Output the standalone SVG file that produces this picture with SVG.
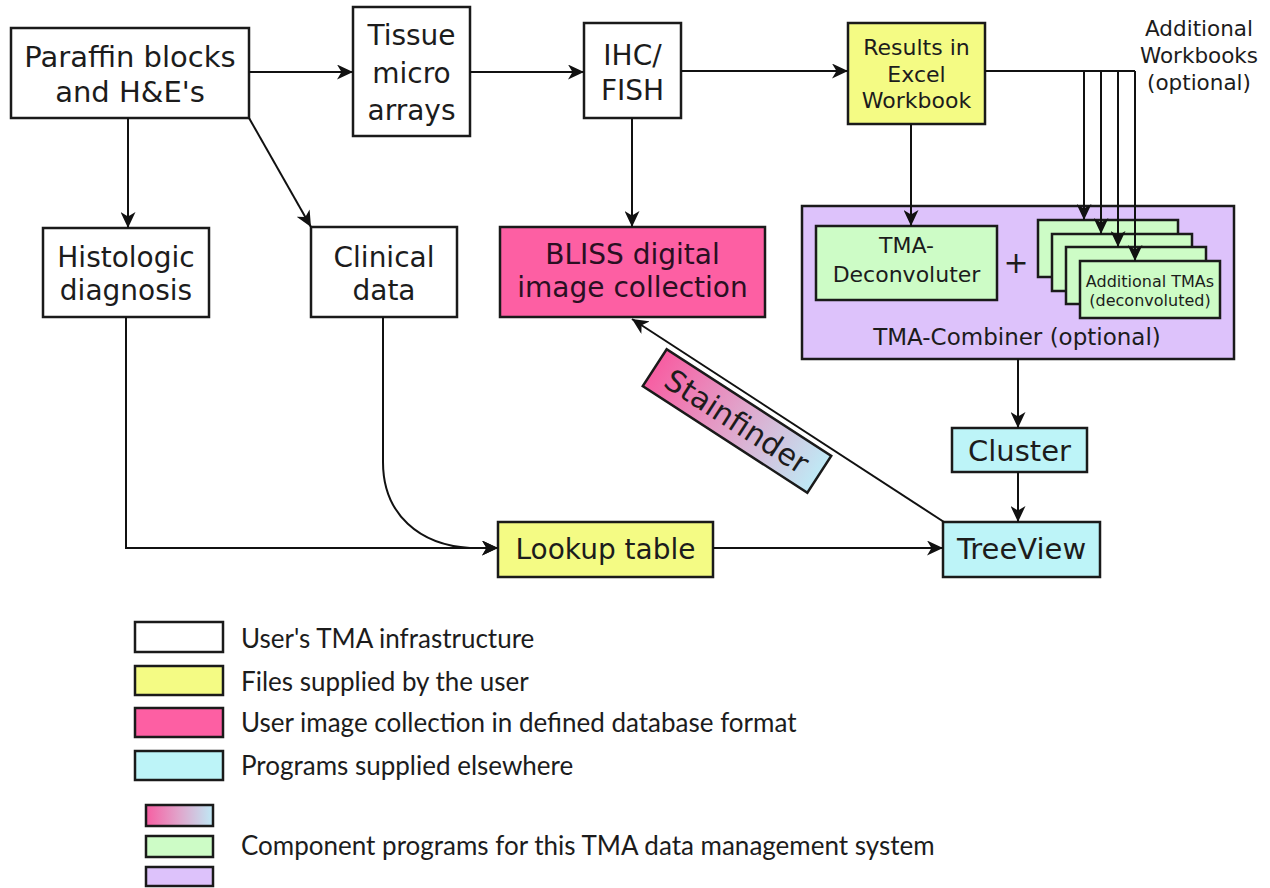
<svg xmlns="http://www.w3.org/2000/svg" width="1270" height="888" viewBox="0 0 1270 888">
<style>
.box{stroke:#1a1a1a;stroke-width:2.5}
.w{fill:#ffffff}
.y{fill:#f4fb84}
.p{fill:#fd5fa3}
.c{fill:#bdf4f8}
.g{fill:#cdfcc6}
.v{fill:#ddc2fb}
.t{font-family:"DejaVu Sans",Verdana,sans-serif;fill:#1c1c1c;text-anchor:middle}
.lg{font-family:Lato,"Open Sans",sans-serif;fill:#1c1c1c;font-size:26px}
.ln{fill:none;stroke:#111;stroke-width:2}
</style>
<defs>
<marker id="ah" markerUnits="userSpaceOnUse" markerWidth="17" markerHeight="15" refX="16" refY="7.5" orient="auto">
<path d="M0,0 L16,7.5 L0,15 L4.5,7.5 z" fill="#111"/>
</marker>
<linearGradient id="sg" x1="0" y1="0" x2="1" y2="0">
<stop offset="0" stop-color="#f75ea2"/>
<stop offset="0.5" stop-color="#e0a6cc"/>
<stop offset="1" stop-color="#bfe9f5"/>
</linearGradient>
</defs>

<g id="paraffin"><rect class="box w" x="11" y="28" width="238" height="90"/>
<text class="t" font-size="29" x="130" y="67">Paraffin blocks</text><text class="t" font-size="29" x="130" y="102">and H&amp;E's</text></g>
<g id="tissue"><rect class="box w" x="353" y="7" width="117" height="129"/>
<text class="t" font-size="28" x="411.5" y="45">Tissue</text><text class="t" font-size="28" x="411.5" y="83">micro</text><text class="t" font-size="28" x="411.5" y="120">arrays</text></g>
<g id="ihc"><rect class="box w" x="584" y="23" width="97" height="95"/>
<text class="t" font-size="28" x="632.5" y="65">IHC/</text><text class="t" font-size="28" x="632.5" y="100">FISH</text></g>
<g id="results"><rect class="box y" x="848" y="23" width="137" height="101"/>
<text class="t" font-size="22" x="916.5" y="55">Results in</text><text class="t" font-size="22" x="916.5" y="82">Excel</text><text class="t" font-size="22" x="916.5" y="108">Workbook</text></g>
<g id="addwb"><text class="t" font-size="21.5" x="1199" y="36">Additional</text><text class="t" font-size="21.5" x="1199" y="63">Workbooks</text><text class="t" font-size="21.5" x="1199" y="90">(optional)</text></g>
<g id="histologic"><rect class="box w" x="43" y="228" width="166" height="89"/>
<text class="t" font-size="28" x="126" y="267">Histologic</text><text class="t" font-size="28" x="126" y="300">diagnosis</text></g>
<g id="clinical"><rect class="box w" x="311" y="227" width="146" height="90"/>
<text class="t" font-size="28" x="384" y="267">Clinical</text><text class="t" font-size="28" x="384" y="300">data</text></g>
<g id="bliss"><rect class="box p" x="500" y="227" width="265" height="90"/>
<text class="t" font-size="28" x="632.5" y="264" style="fill:#2a0f22">BLISS digital</text><text class="t" font-size="28" x="632.5" y="297" style="fill:#2a0f22">image collection</text></g>
<g id="combiner"><rect class="box v" x="802" y="206" width="432" height="153"/>
<text class="t" font-size="23" x="1017" y="345">TMA-Combiner (optional)</text>
<text class="t" font-size="30" x="1016" y="273">+</text></g>
<g id="deconvoluter"><rect class="box g" x="816" y="226" width="181" height="74"/>
<text class="t" font-size="22" x="906.5" y="253">TMA-</text><text class="t" font-size="22" x="906.5" y="282">Deconvoluter</text></g>
<g id="addtmas">
<rect class="box g" x="1038" y="220" width="140" height="57"/>
<rect class="box g" x="1052" y="234" width="140" height="57"/>
<rect class="box g" x="1066" y="247" width="140" height="57"/>
<rect class="box g" x="1080" y="261" width="140" height="57"/>
<text class="t" font-size="16" x="1150" y="287">Additional TMAs</text><text class="t" font-size="16" x="1150" y="306">(deconvoluted)</text></g>
<g id="cluster"><rect class="box c" x="952" y="428" width="135" height="44"/>
<text class="t" font-size="29" x="1019.5" y="461">Cluster</text></g>
<g id="treeview"><rect class="box c" x="943" y="522" width="157" height="55"/>
<text class="t" font-size="29" x="1021.5" y="559">TreeView</text></g>
<g id="lookup"><rect class="box y" x="498" y="522" width="215" height="55"/>
<text class="t" font-size="28" x="605.5" y="559">Lookup table</text></g>

<g id="connectors">
<line class="ln" x1="249" y1="72" x2="353" y2="72" marker-end="url(#ah)"/>
<line class="ln" x1="470" y1="72" x2="584" y2="72" marker-end="url(#ah)"/>
<line class="ln" x1="681" y1="71" x2="848" y2="71" marker-end="url(#ah)"/>
<polyline class="ln" points="985,71 1135,71"/>
<line class="ln" x1="1084" y1="71" x2="1084" y2="220" marker-end="url(#ah)"/>
<line class="ln" x1="1101" y1="71" x2="1101" y2="234" marker-end="url(#ah)"/>
<line class="ln" x1="1118" y1="71" x2="1118" y2="247" marker-end="url(#ah)"/>
<line class="ln" x1="1135" y1="71" x2="1135" y2="261" marker-end="url(#ah)"/>
<line class="ln" x1="911" y1="124" x2="911" y2="226" marker-end="url(#ah)"/>
<line class="ln" x1="128" y1="118" x2="128" y2="228" marker-end="url(#ah)"/>
<line class="ln" x1="249" y1="118" x2="311" y2="227" marker-end="url(#ah)"/>
<line class="ln" x1="632" y1="118" x2="632" y2="227" marker-end="url(#ah)"/>
<path class="ln" d="M126,317 V548 H498" marker-end="url(#ah)"/>
<path class="ln" d="M383,317 V462 C383,515 420,545 470,548 L498,548" marker-end="url(#ah)"/>
<line class="ln" x1="1018" y1="359" x2="1018" y2="428" marker-end="url(#ah)"/>
<line class="ln" x1="1018" y1="472" x2="1018" y2="522" marker-end="url(#ah)"/>
<line class="ln" x1="713" y1="548" x2="943" y2="548" marker-end="url(#ah)"/>
<line class="ln" x1="944" y1="522" x2="632" y2="319" marker-end="url(#ah)"/>
</g>

<g id="stainfinder" transform="translate(737,421) rotate(32.9)">
<rect class="box" x="-98" y="-22" width="196" height="44" fill="url(#sg)"/>
<text class="t" font-size="30" x="0" y="11">Stainfinder</text></g>

<g id="legend">
<rect class="box w" x="135" y="622" width="88" height="30"/>
<rect class="box y" x="135" y="666" width="88" height="29"/>
<rect class="box p" x="135" y="708" width="88" height="29"/>
<rect class="box c" x="135" y="751" width="88" height="29"/>
<rect class="box" x="146" y="805" width="67" height="21" fill="url(#sg)"/>
<rect class="box g" x="146" y="836" width="67" height="21"/>
<rect class="box v" x="146" y="867" width="67" height="19"/>
<text class="lg" x="241" y="648">User's TMA infrastructure</text>
<text class="lg" x="241" y="691">Files supplied by the user</text>
<text class="lg" x="241" y="732">User image collection in defined database format</text>
<text class="lg" x="241" y="775">Programs supplied elsewhere</text>
<text class="lg" x="241" y="855">Component programs for this TMA data management system</text>
</g>
</svg>
